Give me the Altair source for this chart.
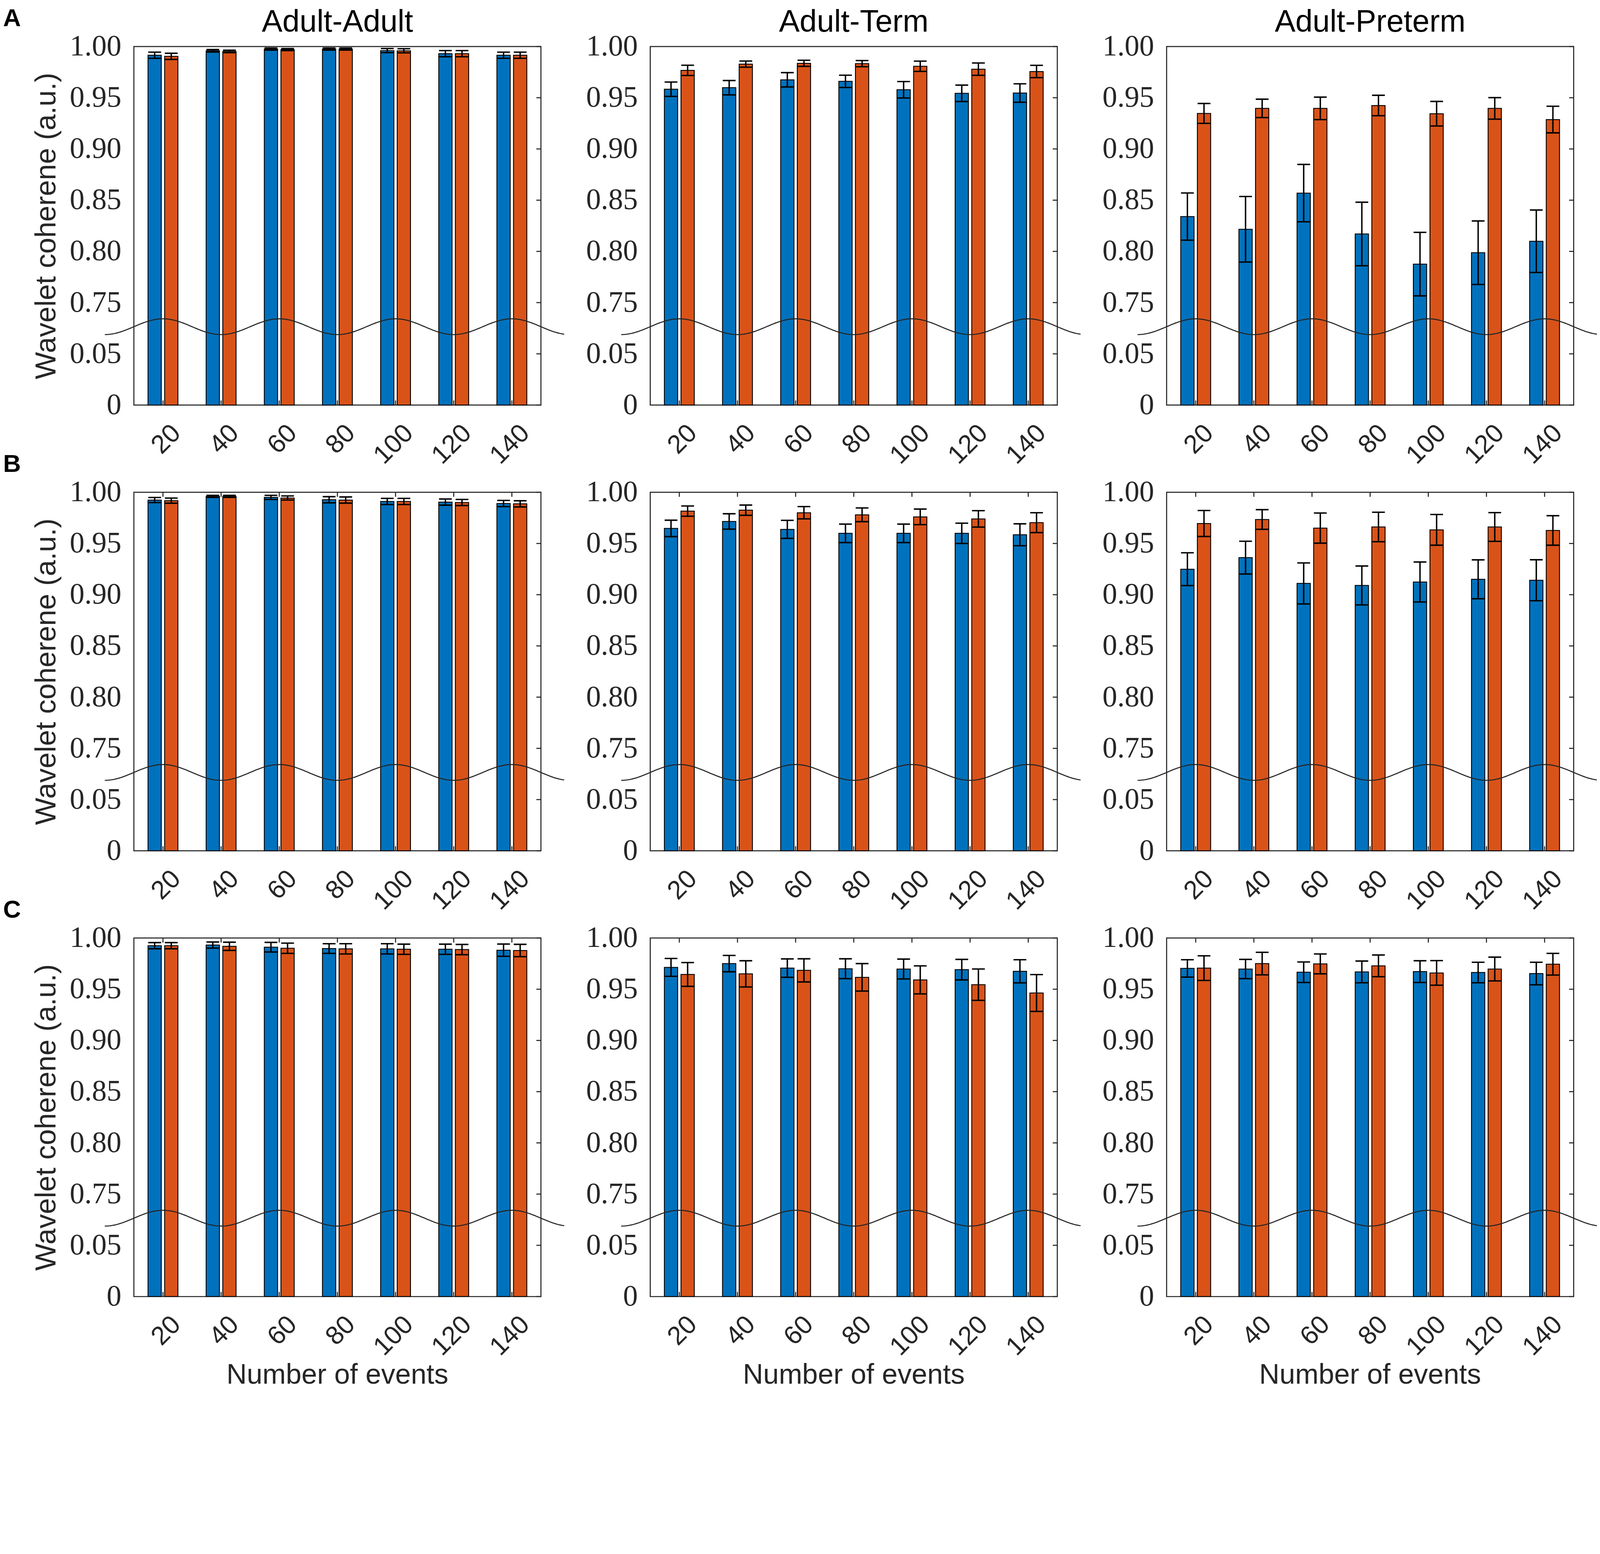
import altair as alt
import pandas as pd

# ---------------- data ----------------
events = [20, 40, 60, 80, 100, 120, 140]
tick_labels = ["0", "0.05", "0.75", "0.80", "0.85", "0.90", "0.95", "1.00"]
col_titles = ["Adult-Adult", "Adult-Term", "Adult-Preterm"]
row_labels = ["A", "B", "C"]
series_names = ["Series 1", "Series 2"]
x_title = "Number of events"
y_title = "Wavelet coherene (a.u.)"

# Row A
A_AA_s1 = [0.9915, 0.9958, 0.9975, 0.9975, 0.9960, 0.9930, 0.9915]
A_AA_s1_err = [0.0030, 0.0012, 0.0010, 0.0010, 0.0020, 0.0030, 0.0030]
A_AA_s2 = [0.9904, 0.9952, 0.9970, 0.9975, 0.9958, 0.9930, 0.9915]
A_AA_s2_err = [0.0030, 0.0012, 0.0010, 0.0010, 0.0020, 0.0030, 0.0030]
A_AT_s1 = [0.9583, 0.9598, 0.9675, 0.9660, 0.9578, 0.9543, 0.9546]
A_AT_s1_err = [0.0070, 0.0070, 0.0070, 0.0060, 0.0080, 0.0080, 0.0090]
A_AT_s2 = [0.9767, 0.9828, 0.9836, 0.9833, 0.9807, 0.9779, 0.9756]
A_AT_s2_err = [0.0050, 0.0030, 0.0030, 0.0030, 0.0050, 0.0060, 0.0060]
A_AP_s1 = [0.8340, 0.8216, 0.8569, 0.8170, 0.7876, 0.7987, 0.8099]
A_AP_s1_err = [0.0230, 0.0320, 0.0280, 0.0310, 0.0310, 0.0310, 0.0305]
A_AP_s2 = [0.9347, 0.9396, 0.9396, 0.9424, 0.9344, 0.9396, 0.9287]
A_AP_s2_err = [0.0097, 0.0090, 0.0110, 0.0100, 0.0120, 0.0105, 0.0130]

# Row B
B_AA_s1 = [0.9924, 0.9960, 0.9950, 0.9927, 0.9910, 0.9904, 0.9890]
B_AA_s1_err = [0.0025, 0.0010, 0.0020, 0.0030, 0.0030, 0.0030, 0.0030]
B_AA_s2 = [0.9918, 0.9960, 0.9944, 0.9924, 0.9910, 0.9900, 0.9887]
B_AA_s2_err = [0.0025, 0.0010, 0.0020, 0.0030, 0.0030, 0.0030, 0.0030]
B_AT_s1 = [0.9647, 0.9715, 0.9638, 0.9599, 0.9599, 0.9599, 0.9585]
B_AT_s1_err = [0.0080, 0.0075, 0.0088, 0.0090, 0.0090, 0.0099, 0.0107]
B_AT_s2 = [0.9816, 0.9825, 0.9800, 0.9780, 0.9760, 0.9740, 0.9703]
B_AT_s2_err = [0.0050, 0.0050, 0.0060, 0.0067, 0.0076, 0.0080, 0.0097]
B_AP_s1 = [0.9249, 0.9362, 0.9110, 0.9090, 0.9124, 0.9150, 0.9141]
B_AP_s1_err = [0.0160, 0.0160, 0.0200, 0.0190, 0.0195, 0.0190, 0.0200]
B_AP_s2 = [0.9695, 0.9734, 0.9650, 0.9661, 0.9633, 0.9661, 0.9627]
B_AP_s2_err = [0.0127, 0.0096, 0.0147, 0.0144, 0.0150, 0.0140, 0.0144]

# Row C
C_AA_s1 = [0.9925, 0.9931, 0.9910, 0.9897, 0.9894, 0.9890, 0.9881]
C_AA_s1_err = [0.0030, 0.0030, 0.0047, 0.0047, 0.0050, 0.0050, 0.0060]
C_AA_s2 = [0.9925, 0.9919, 0.9900, 0.9894, 0.9890, 0.9887, 0.9878]
C_AA_s2_err = [0.0030, 0.0040, 0.0050, 0.0050, 0.0050, 0.0050, 0.0060]
C_AT_s1 = [0.9713, 0.9750, 0.9706, 0.9700, 0.9697, 0.9691, 0.9675]
C_AT_s1_err = [0.0087, 0.0080, 0.0090, 0.0097, 0.0097, 0.0100, 0.0113]
C_AT_s2 = [0.9644, 0.9650, 0.9684, 0.9616, 0.9591, 0.9544, 0.9463]
C_AT_s2_err = [0.0116, 0.0128, 0.0113, 0.0134, 0.0137, 0.0153, 0.0180]
C_AP_s1 = [0.9703, 0.9697, 0.9666, 0.9669, 0.9672, 0.9663, 0.9653]
C_AP_s1_err = [0.0085, 0.0094, 0.0100, 0.0106, 0.0106, 0.0100, 0.0110]
C_AP_s2 = [0.9706, 0.9750, 0.9747, 0.9728, 0.9659, 0.9697, 0.9744]
C_AP_s2_err = [0.0120, 0.0110, 0.0097, 0.0106, 0.0120, 0.0116, 0.0106]

panels = [
    [(A_AA_s1, A_AA_s1_err, A_AA_s2, A_AA_s2_err),
     (A_AT_s1, A_AT_s1_err, A_AT_s2, A_AT_s2_err),
     (A_AP_s1, A_AP_s1_err, A_AP_s2, A_AP_s2_err)],
    [(B_AA_s1, B_AA_s1_err, B_AA_s2, B_AA_s2_err),
     (B_AT_s1, B_AT_s1_err, B_AT_s2, B_AT_s2_err),
     (B_AP_s1, B_AP_s1_err, B_AP_s2, B_AP_s2_err)],
    [(C_AA_s1, C_AA_s1_err, C_AA_s2, C_AA_s2_err),
     (C_AT_s1, C_AT_s1_err, C_AT_s2, C_AT_s2_err),
     (C_AP_s1, C_AP_s1_err, C_AP_s2, C_AP_s2_err)],
]

# ---------------- style ----------------
W, H = 1158, 1020
HSPACE, VSPACE = 311, 248
BLUE, ORANGE = "#0072BD", "#D95319"
INK = "#262626"
SANS = "Liberation Sans, Arial, Helvetica, sans-serif"
SERIF = "Liberation Serif, Times New Roman, Times, serif"
BAR_OFF, BAR_HALF, CAP_HALF = 2.857, 2.286, 2.2
TICK_LEN = 13
# axis break marker (broken-axis wave), in break-scale units
BREAK_CENTER, BREAK_AMP, BREAK_PERIOD = 1.53, 0.154, 40
# page frame (compensates for the grid's own top offset)
PAD_LEFT, PAD_TOP, PAD_RIGHT, PAD_BOTTOM = 372, -75, 4162, 3641
TITLE_BASELINE, LETTER_BASELINE = -42, -58
XTITLE_BASELINE = H + 248
ZWSP = "\u200b"  # keeps the bottom axis' reserved title band unchanged

xs = alt.Scale(domain=[10, 150], nice=False, zero=False)
ys = alt.Scale(domain=[0, len(tick_labels) - 1], nice=False, zero=False)


def brk(v):
    # broken axis: 0..0.05 occupies one step, 0.75..1.00 the upper five
    return f"(({v}) <= 0.05 ? ({v}) / 0.05 : 2 + (({v}) - 0.75) / 0.05)"


label_expr = "[" + ",".join(f"'{t}'" for t in tick_labels) + "][datum.value]"


def panel(r, c):
    s1, e1, s2, e2 = panels[r][c]
    df = pd.concat([
        pd.DataFrame({"events": events, "mean": s1, "err": e1, "series": series_names[0]}),
        pd.DataFrame({"events": events, "mean": s2, "err": e2, "series": series_names[1]}),
    ], ignore_index=True)

    base = alt.Chart(df).transform_calculate(
        cx=f"datum.events + (datum.series == '{series_names[0]}' ? -{BAR_OFF} : {BAR_OFF})"
    ).transform_calculate(
        x0=f"datum.cx - {BAR_HALF}",
        x1=f"datum.cx + {BAR_HALF}",
        c0=f"datum.cx - {CAP_HALF}",
        c1=f"datum.cx + {CAP_HALF}",
        ty=brk("datum.mean"),
        thi=brk("datum.mean + datum.err"),
        tlo=brk("datum.mean - datum.err"),
    )

    xaxis_kw = dict(
        values=events, labelAngle=315, labelAlign="right", labelBaseline="middle",
        labelFont=SANS, labelFontSize=74, labelColor=INK,
        labelPadding=68, labelOffset=38, ticks=False, tickSize=0, domain=False,
        grid=False, labelFlush=False, labelOverlap=False, labelLimit=1000,
    )
    if r == 2:
        xaxis_kw.update(title=ZWSP, titleFont=SANS,
                        titleFontSize=80, titleFontWeight="normal", titleColor=INK,
                        titlePadding=30)
    xaxis = alt.Axis(**xaxis_kw)

    yaxis_kw = dict(
        values=list(range(len(tick_labels))), labelExpr=label_expr,
        labelFont=SERIF, labelFontSize=84, labelColor=INK,
        labelPadding=36, ticks=False, tickSize=0, domain=False, grid=False,
        labelLimit=1000,
    )
    if c == 0:
        yaxis_kw.update(title=y_title, titleFont=SANS,
                        titleFontSize=82, titleFontWeight="normal", titleColor=INK,
                        titlePadding=24)
    yaxis = alt.Axis(**yaxis_kw)

    xtitle = ZWSP if r == 2 else None
    ytitle = y_title if c == 0 else None

    def X(field):
        return alt.X(field, scale=xs, axis=xaxis, title=xtitle)

    def Y(field):
        return alt.Y(field, scale=ys, axis=yaxis, title=ytitle)

    layers = []
    bars = base.mark_bar(stroke="black", strokeWidth=2.5).encode(
        x=X("x0:Q"), x2="x1:Q",
        y=Y("ty:Q"), y2=alt.datum(0),
        color=alt.Color("series:N", scale=alt.Scale(domain=series_names, range=[BLUE, ORANGE]),
                        legend=None),
    )
    layers.append(bars)

    # inner bottom ticks
    layers.append(alt.Chart(pd.DataFrame({"e": events})).mark_rule(
        color=INK, strokeWidth=3).encode(
        x=X("e:Q"), y=alt.value(H - TICK_LEN), y2=alt.value(H)))

    # error bars with caps
    layers.append(base.mark_rule(color="black", strokeWidth=4).encode(
        x=X("cx:Q"), y=Y("tlo:Q"), y2="thi:Q"))
    layers.append(base.mark_rule(color="black", strokeWidth=4).encode(
        x=X("c0:Q"), x2="c1:Q", y=Y("thi:Q")))
    layers.append(base.mark_rule(color="black", strokeWidth=4).encode(
        x=X("c0:Q"), x2="c1:Q", y=Y("tlo:Q")))

    # axis-break wave
    wave = alt.Chart(alt.sequence(0, 158.01, 0.5, as_="wx")).transform_calculate(
        wy=f"{BREAK_CENTER} + {BREAK_AMP} * cos(2 * PI * (datum.wx - 20) / {BREAK_PERIOD})"
    ).mark_line(clip=False, color=INK, strokeWidth=3).encode(
        x=X("wx:Q"), y=Y("wy:Q"), order="wx:Q",
    )
    layers.append(wave)

    # inner right-side y ticks
    layers.append(alt.Chart(pd.DataFrame({"t": list(range(len(tick_labels)))})).mark_rule(
        color=INK, strokeWidth=3).encode(
        x=alt.value(W - TICK_LEN), x2=alt.value(W), y=Y("t:Q")))

    # inner top ticks (rows B and C)
    if r > 0:
        layers.append(alt.Chart(pd.DataFrame({"e": events})).mark_rule(
            color=INK, strokeWidth=3).encode(
            x=X("e:Q"), y=alt.value(0), y2=alt.value(TICK_LEN)))

    # column titles (top row)
    if r == 0:
        layers.append(alt.Chart(pd.DataFrame({"t": [col_titles[c]]})).mark_text(
            align="center", baseline="alphabetic", font=SANS,
            fontSize=88, color="black").encode(
            x=alt.value(W / 2), y=alt.value(TITLE_BASELINE), text="t:N"))

    # x-axis title (bottom row)
    if r == 2:
        layers.append(alt.Chart(pd.DataFrame({"t": [x_title]})).mark_text(
            align="center", baseline="alphabetic", font=SANS,
            fontSize=80, color=INK).encode(
            x=alt.value(W / 2), y=alt.value(XTITLE_BASELINE), text="t:N"))

    # panel letter
    if c == 0:
        layers.append(alt.Chart(pd.DataFrame({"lab": [row_labels[r]]})).mark_text(
            align="left", baseline="alphabetic", font=SANS, fontWeight="bold",
            fontSize=70, color="black").encode(
            x=alt.value(-372), y=alt.value(LETTER_BASELINE), text="lab:N"))

    return alt.layer(*layers).properties(width=W, height=H)


cells = [panel(r, c) for r in range(3) for c in range(3)]
chart = alt.concat(*cells, columns=3, spacing={"row": VSPACE, "column": HSPACE},
                   bounds="flush").properties(
    autosize=alt.AutoSizeParams(type="none"),
    padding={"left": PAD_LEFT, "top": PAD_TOP, "right": PAD_RIGHT, "bottom": PAD_BOTTOM},
).configure_view(stroke=INK, strokeWidth=3)

chart.save("out.html", embed_options={"renderer": "svg", "actions": False})
